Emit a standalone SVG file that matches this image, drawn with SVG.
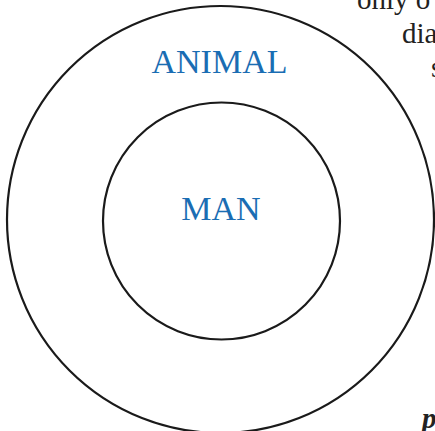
<svg xmlns="http://www.w3.org/2000/svg" width="435" height="431" viewBox="0 0 435 431">
<style>
.ring{fill:none;stroke:#1a1a1a;stroke-width:2.2}
.lbl{font-family:"Liberation Serif","Times New Roman",serif;font-size:34px;fill:#1a6db3;text-anchor:middle}
.body{font-family:"Liberation Serif","Times New Roman",serif;font-size:29px;fill:#222}
</style>
<rect width="435" height="431" fill="#fff"/>
<g id="animal">
<circle class="ring" cx="220.5" cy="219.5" r="213.5"/>
<text class="lbl" x="219.5" y="72.5">ANIMAL</text>
</g>
<g id="man">
<circle class="ring" cx="221.5" cy="221" r="118.5"/>
<text class="lbl" x="221" y="220">MAN</text>
</g>
<g id="connectors"></g>
<g id="page-text">
<text class="body" x="357" y="9">only o</text>
<text class="body" x="402" y="43">dia</text>
<text class="body" x="431" y="77">s</text>
<text class="body" x="422" y="428" font-weight="bold" font-style="italic">p</text>
</g>
</svg>
